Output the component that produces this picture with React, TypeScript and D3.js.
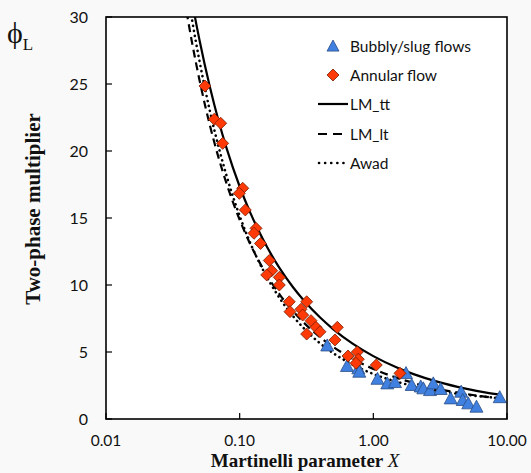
import React from "react";
import * as d3 from "d3";

const xTicks = [0.01, 0.1, 1, 10];
const xTickLabels = ["0.01", "0.10", "1.00", "10.00"];
const yTicks = [0, 5, 10, 15, 20, 25, 30];

// Bubbly/slug flows (X, phi_L)
const bubblyX = [0.452, 0.635, 0.772, 0.785, 1.074, 1.272, 1.452, 1.755, 1.936, 2.262, 2.365, 2.654, 2.81, 3.19, 3.79, 4.54, 4.66, 5.13, 5.91, 8.82];
const bubblyY = [5.49, 3.96, 3.78, 3.53, 3.0, 2.66, 2.76, 3.43, 2.54, 2.43, 2.29, 2.16, 2.66, 2.24, 1.54, 2.04, 1.42, 1.17, 0.92, 1.63];

// Annular flow (X, phi_L)
const annularX = [0.055, 0.0646, 0.0721, 0.0746, 0.1054, 0.0994, 0.1102, 0.1325, 0.128, 0.1432, 0.1666, 0.1736, 0.1593, 0.198, 0.198, 0.2351, 0.3172, 0.238, 0.2876, 0.2961, 0.3418, 0.3724, 0.3172, 0.399, 0.5376, 0.5167, 0.6464, 0.7586, 0.7718, 0.7418, 1.052, 1.583];
const annularY = [24.85, 22.37, 22.07, 20.57, 17.22, 16.84, 15.6, 14.23, 13.86, 13.1, 11.83, 11.07, 10.75, 10.57, 10.0, 8.75, 8.75, 8.01, 8.19, 7.76, 7.34, 6.84, 6.34, 6.51, 6.84, 5.9, 4.7, 5.0, 4.46, 4.16, 4.03, 3.41];

// Correlation curves sampled at curveX
const curveX = [0.04, 0.044, 0.05, 0.06, 0.07, 0.08, 0.1, 0.12, 0.15, 0.2, 0.25, 0.3, 0.4, 0.5, 0.7, 1, 1.5, 2, 3, 5, 7, 9];
const lmTT = [33.56, 31.18, 28.3, 24.74, 22.15, 20.18, 17.35, 15.4, 13.37, 11.22, 9.85, 8.88, 7.57, 6.71, 5.62, 4.69, 3.84, 3.35, 2.79, 2.25, 1.97, 1.8];
const lmLT = [30.43, 28.11, 25.32, 21.88, 19.4, 17.53, 14.87, 13.05, 11.2, 9.27, 8.06, 7.22, 6.1, 5.39, 4.49, 3.74, 3.07, 2.69, 2.26, 1.86, 1.65, 1.53];
const awad = [32.36, 29.8, 26.74, 22.94, 20.2, 18.11, 15.15, 13.14, 11.1, 8.99, 7.69, 6.8, 5.64, 4.92, 4.06, 3.36, 2.78, 2.46, 2.11, 1.8, 1.65, 1.55];

const legendLabels = ["Bubbly/slug flows", "Annular flow", "LM_tt", "LM_lt", "Awad"];

const W = 531, H = 473;
const L = 106, R = 507, T = 17, B = 419;

const TRI_FILL = "#3f80e0";
const TRI_STROKE = "#2b4f86";
const DIA_FILL = "#ff3a06";
const DIA_STROKE = "#7a1c00";

const sans = "Lato, 'Open Sans', sans-serif";
const serif = "'Liberation Serif', 'DejaVu Serif', serif";

function tri(cx: number, cy: number, s = 6.5) {
  return `M${cx},${cy - s}L${cx + s},${cy + s * 0.85}L${cx - s},${cy + s * 0.85}Z`;
}
function dia(cx: number, cy: number, s = 6) {
  return `M${cx},${cy - s}L${cx + s},${cy}L${cx},${cy + s}L${cx - s},${cy}Z`;
}

export default function App() {
  const x = d3.scaleLog().domain([0.01, 10]).range([L, R]);
  const y = d3.scaleLinear().domain([0, 30]).range([B, T]);
  const line = d3
    .line<number>()
    .x((_, i) => x(curveX[i]))
    .y((v) => y(v))
    .curve(d3.curveMonotoneX);

  const lx = 318;
  const legRows = [46, 75, 104, 134, 163];

  return (
    <svg
      width={W}
      height={H}
      style={{ position: "absolute", left: 0, top: 0, background: "#f9f9f9", display: "block" }}
    >
      <defs>
        <clipPath id="plotclip">
          <rect x={L} y={T} width={R - L} height={B - T} />
        </clipPath>
      </defs>
      <rect x={L} y={T} width={R - L} height={B - T} fill="#ffffff" />

      <g clipPath="url(#plotclip)" fill="none" stroke="#000">
        <path d={line(lmTT) || ""} strokeWidth={2.2} />
        <path d={line(lmLT) || ""} strokeWidth={2.2} strokeDasharray="8 5" />
        <path d={line(awad) || ""} strokeWidth={2.6} strokeDasharray="0.1 5" strokeLinecap="round" />
      </g>

      <g>
        {bubblyX.map((v, i) => (
          <path key={"b" + i} d={tri(x(v), y(bubblyY[i]))} fill={TRI_FILL} stroke={TRI_STROKE} strokeWidth={0.8} />
        ))}
        {annularX.map((v, i) => (
          <path key={"a" + i} d={dia(x(v), y(annularY[i]))} fill={DIA_FILL} stroke={DIA_STROKE} strokeWidth={0.8} />
        ))}
      </g>

      {/* frame */}
      <rect x={L} y={T} width={R - L} height={B - T} fill="none" stroke="#000" strokeWidth={1.6} />

      {/* ticks */}
      {yTicks.map((t) => (
        <g key={"y" + t}>
          <line x1={L} x2={L + 6} y1={y(t)} y2={y(t)} stroke="#000" strokeWidth={1.2} />
          <text x={88} y={y(t) + 6} textAnchor="end" fontFamily={sans} fontSize={16} fill="#111">
            {t}
          </text>
        </g>
      ))}
      {xTicks.map((t, i) => (
        <g key={"x" + t}>
          <line x1={x(t)} x2={x(t)} y1={B} y2={B - 6} stroke="#000" strokeWidth={1.2} />
          <text x={x(t)} y={446} textAnchor="middle" fontFamily={sans} fontSize={15.5} fill="#111">
            {xTickLabels[i]}
          </text>
        </g>
      ))}

      {/* axis titles */}
      <text x={305} y={467} textAnchor="middle" fontFamily={serif} fontWeight="bold" fontSize={19} fill="#111">
        Martinelli parameter <tspan fontStyle="italic" fontWeight="normal">X</tspan>
      </text>
      <text
        transform={`translate(40,209) rotate(-90)`}
        textAnchor="middle"
        fontFamily={serif}
        fontWeight="bold"
        fontSize={21}
        fill="#111"
      >
        Two-phase multiplier
      </text>
      <text x={7} y={43} fontFamily={serif} fontSize={30} fill="#111">
        ϕ
        <tspan fontSize={17} dy={7}>L</tspan>
      </text>

      {/* legend */}
      <path d={tri(333, legRows[0], 6)} fill={TRI_FILL} stroke={TRI_STROKE} strokeWidth={0.8} />
      <path d={dia(333, legRows[1], 6)} fill={DIA_FILL} stroke={DIA_STROKE} strokeWidth={0.8} />
      <line x1={lx} x2={lx + 30} y1={legRows[2]} y2={legRows[2]} stroke="#000" strokeWidth={2.2} />
      <line x1={lx} x2={lx + 30} y1={legRows[3]} y2={legRows[3]} stroke="#000" strokeWidth={2.2} strokeDasharray="9 6" />
      <line x1={lx + 1} x2={lx + 30} y1={legRows[4]} y2={legRows[4]} stroke="#000" strokeWidth={2.6} strokeDasharray="0.1 6" strokeLinecap="round" />
      {legendLabels.map((s, i) => (
        <text key={s} x={350} y={legRows[i] + 6} fontFamily={sans} fontSize={15.5} fill="#111">
          {s}
        </text>
      ))}
    </svg>
  );
}
